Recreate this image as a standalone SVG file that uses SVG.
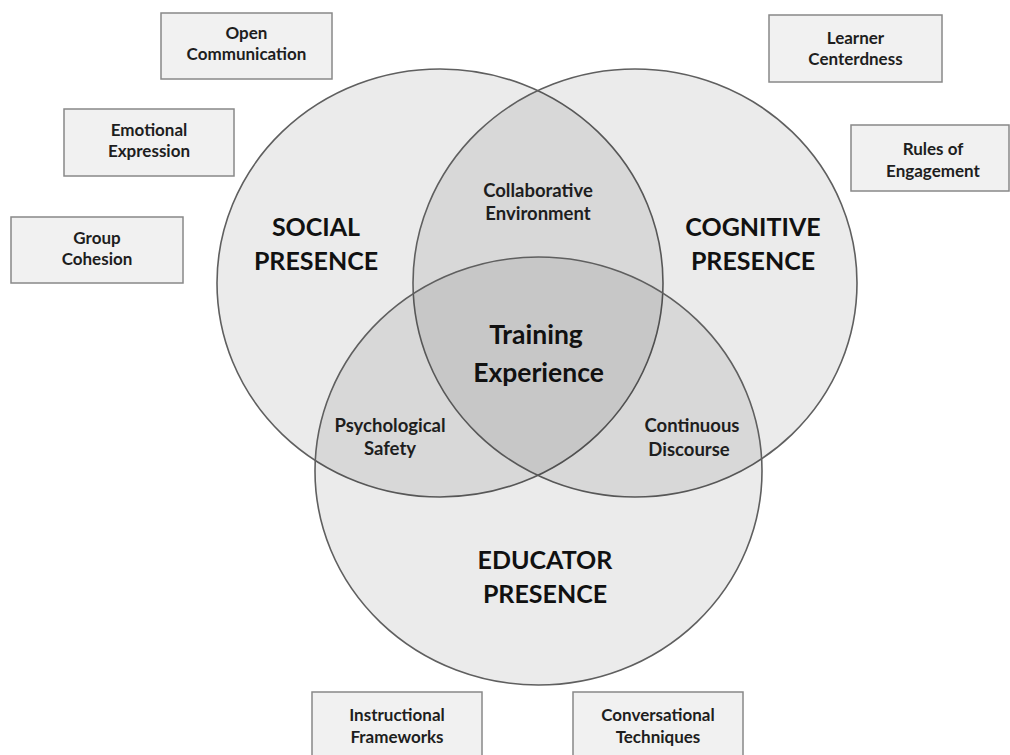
<svg xmlns="http://www.w3.org/2000/svg" width="1010" height="755" viewBox="0 0 1010 755">
  <style>
    .ring { fill: #000; fill-opacity: 0.08; stroke: #5f5f5f; stroke-width: 1.6; }
    .box rect { fill: #f1f1f1; stroke: #888; stroke-width: 1.5; }
    text { font-family: Lato, "Open Sans", "Liberation Sans", sans-serif; font-weight: 700; text-anchor: middle; fill: #1e1e1e; }
    .small { font-size: 17px; }
    .mid { font-size: 18.5px; }
    .big { font-size: 25px; fill: #111; }
    .core { font-size: 26.5px; fill: #111; }
  </style>

  <!-- three overlapping presence circles -->
  <g id="social-presence">
    <ellipse class="ring" cx="440" cy="283" rx="223" ry="214"/>
    <text class="big" x="316" y="236">SOCIAL</text>
    <text class="big" x="316" y="270">PRESENCE</text>
  </g>
  <g id="cognitive-presence">
    <ellipse class="ring" cx="635" cy="283" rx="222" ry="214"/>
    <text class="big" x="753" y="236">COGNITIVE</text>
    <text class="big" x="753" y="270">PRESENCE</text>
  </g>
  <g id="educator-presence">
    <ellipse class="ring" cx="538.5" cy="471" rx="223.5" ry="214"/>
    <text class="big" x="545" y="569">EDUCATOR</text>
    <text class="big" x="545" y="603">PRESENCE</text>
  </g>

  <!-- overlap labels -->
  <g id="collaborative-environment">
    <text class="mid" x="538" y="197">Collaborative</text>
    <text class="mid" x="538" y="220">Environment</text>
  </g>
  <g id="psychological-safety">
    <text class="mid" x="390" y="432">Psychological</text>
    <text class="mid" x="390" y="455">Safety</text>
  </g>
  <g id="continuous-discourse">
    <text class="mid" x="692" y="432">Continuous</text>
    <text class="mid" x="689" y="456">Discourse</text>
  </g>
  <g id="training-experience">
    <text class="core" x="536" y="344">Training</text>
    <text class="core" x="538.5" y="382">Experience</text>
  </g>

  <!-- element boxes -->
  <g id="open-communication" class="box">
    <rect x="161" y="13" width="171" height="66"/>
    <text class="small" x="246.5" y="39">Open</text>
    <text class="small" x="246.5" y="60">Communication</text>
  </g>
  <g id="emotional-expression" class="box">
    <rect x="64" y="109" width="170" height="67"/>
    <text class="small" x="149" y="136">Emotional</text>
    <text class="small" x="149" y="157">Expression</text>
  </g>
  <g id="group-cohesion" class="box">
    <rect x="11" y="217" width="172" height="66"/>
    <text class="small" x="97" y="244">Group</text>
    <text class="small" x="97" y="265">Cohesion</text>
  </g>
  <g id="learner-centerdness" class="box">
    <rect x="769" y="15" width="173" height="67"/>
    <text class="small" x="855.5" y="44">Learner</text>
    <text class="small" x="855.5" y="65">Centerdness</text>
  </g>
  <g id="rules-of-engagement" class="box">
    <rect x="851" y="125" width="158" height="66"/>
    <text class="small" x="933" y="155">Rules of</text>
    <text class="small" x="933" y="177">Engagement</text>
  </g>
  <g id="instructional-frameworks" class="box">
    <rect x="312" y="692" width="170" height="72"/>
    <text class="small" x="397" y="721">Instructional</text>
    <text class="small" x="397" y="743">Frameworks</text>
  </g>
  <g id="conversational-techniques" class="box">
    <rect x="573" y="692" width="170" height="72"/>
    <text class="small" x="658" y="721">Conversational</text>
    <text class="small" x="658" y="743">Techniques</text>
  </g>

  <!-- no connectors in this diagram -->
  <g id="connectors"/>
</svg>
